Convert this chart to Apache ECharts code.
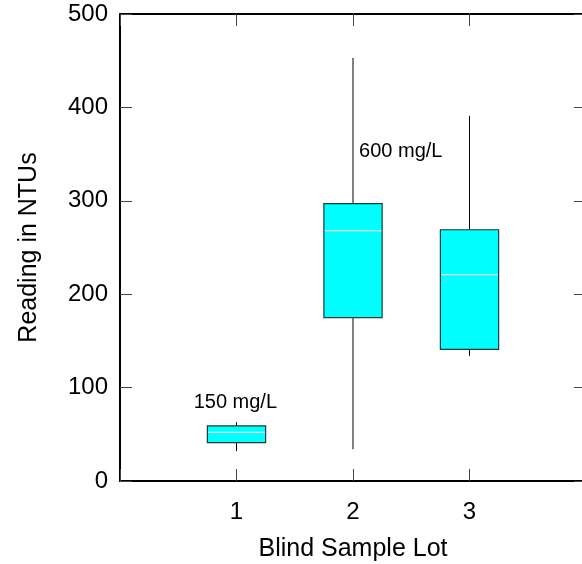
<!DOCTYPE html>
<html>
<head>
<meta charset="utf-8">
<script src="https://cdn.jsdelivr.net/npm/echarts@6/dist/echarts.min.js"></script>
<style>
    html, body { margin: 0; padding: 0; background: #fff; }
    #chart { width: 582px; height: 564px; }
</style>
</head>
<body>
<div id="chart"></div>
<script>
// Box statistics per lot
const lots = [1, 2, 3];
const whiskerLow = [32, 34, 134];
const boxLow = [41, 175, 141];
const medians = [52, 268, 221];
const boxHigh = [59, 297, 269];
const whiskerHigh = [63, 453, 391];

const noteText = ['150 mg/L', '600 mg/L'];
const noteX = [0.99, 2.41];
const noteY = [84, 353];

const xTicks = [1, 2, 3];

const font = 'Liberation Sans, Arial, sans-serif';

const boxData = lots.map((lot, i) => [lot, whiskerLow[i], boxLow[i], medians[i], boxHigh[i], whiskerHigh[i]]);

function renderBox(params, api) {
    const x = api.value(0);
    const pLow = api.coord([x, api.value(1)]);
    const pQ1 = api.coord([x, api.value(2)]);
    const pMed = api.coord([x, api.value(3)]);
    const pQ3 = api.coord([x, api.value(4)]);
    const pHigh = api.coord([x, api.value(5)]);
    const half = api.size([0.5, 0])[0] / 2;
    const lineStyle = { stroke: '#000', lineWidth: 1 };
    return {
        type: 'group',
        children: [
            { type: 'line', shape: { x1: pQ3[0], y1: pQ3[1], x2: pHigh[0], y2: pHigh[1] }, style: lineStyle },
            { type: 'line', shape: { x1: pLow[0], y1: pLow[1], x2: pQ1[0], y2: pQ1[1] }, style: lineStyle },
            {
                type: 'rect',
                shape: { x: pQ3[0] - half, y: pQ3[1], width: half * 2, height: pQ1[1] - pQ3[1] },
                style: { fill: '#00ffff', stroke: '#1a3a3a', lineWidth: 1.2 }
            },
            {
                type: 'line',
                shape: { x1: pMed[0] - half + 1, y1: pMed[1], x2: pMed[0] + half - 1, y2: pMed[1] },
                style: { stroke: '#e8ffff', lineWidth: 1.2 }
            }
        ]
    };
}

const chart = echarts.init(document.getElementById('chart'));

const tickFmt = v => (xTicks.includes(v) ? String(v) : '');
const frameLine = { onZero: false, lineStyle: { color: '#000', width: 2 } };
const innerTick = { show: true, inside: true, length: 12, lineStyle: { color: '#444', width: 1 } };

chart.setOption({
    animation: false,
    backgroundColor: '#fff',
    // the right edge of the frame sits just past the picture
    grid: { left: 120, top: 14, width: 466, height: 467, outerBoundsMode: 'none', containLabel: false },
    xAxis: [
        {
            type: 'value', min: 0, max: 4, interval: 1,
            name: 'Blind Sample Lot', nameLocation: 'middle', nameGap: 56,
            nameTextStyle: { fontSize: 25, color: '#000', fontFamily: font },
            axisLine: frameLine,
            axisTick: innerTick,
            axisLabel: { formatter: tickFmt, fontSize: 24, color: '#000', fontFamily: font, margin: 19 },
            splitLine: { show: false }
        },
        {
            type: 'value', position: 'top', min: 0, max: 4, interval: 1,
            axisLine: frameLine,
            axisTick: innerTick,
            axisLabel: { show: false },
            splitLine: { show: false }
        }
    ],
    yAxis: [
        {
            type: 'value', min: 0, max: 500, interval: 100,
            name: 'Reading in NTUs', nameLocation: 'middle', nameGap: 78,
            nameTextStyle: { fontSize: 25, color: '#000', fontFamily: font },
            axisLine: { show: true, ...frameLine },
            axisTick: innerTick,
            axisLabel: { fontSize: 24, color: '#000', fontFamily: font, margin: 12, padding: [7, 0, 0, 0] },
            splitLine: { show: false }
        },
        {
            type: 'value', position: 'right', min: 0, max: 500, interval: 100,
            axisLine: { show: true, ...frameLine },
            axisTick: innerTick,
            axisLabel: { show: false },
            splitLine: { show: false }
        }
    ],
    series: [
        {
            type: 'custom',
            renderItem: renderBox,
            encode: { x: 0, y: [1, 2, 3, 4, 5] },
            data: boxData,
            clip: false
        },
        {
            type: 'scatter',
            symbolSize: 0,
            itemStyle: { opacity: 1 },
            data: noteText.map((t, i) => ({ value: [noteX[i], noteY[i]], name: t })),
            label: {
                show: true, position: 'inside', formatter: p => p.name,
                fontSize: 20, color: '#000', fontFamily: font
            },
            silent: true
        }
    ]
});
</script>
</body>
</html>
